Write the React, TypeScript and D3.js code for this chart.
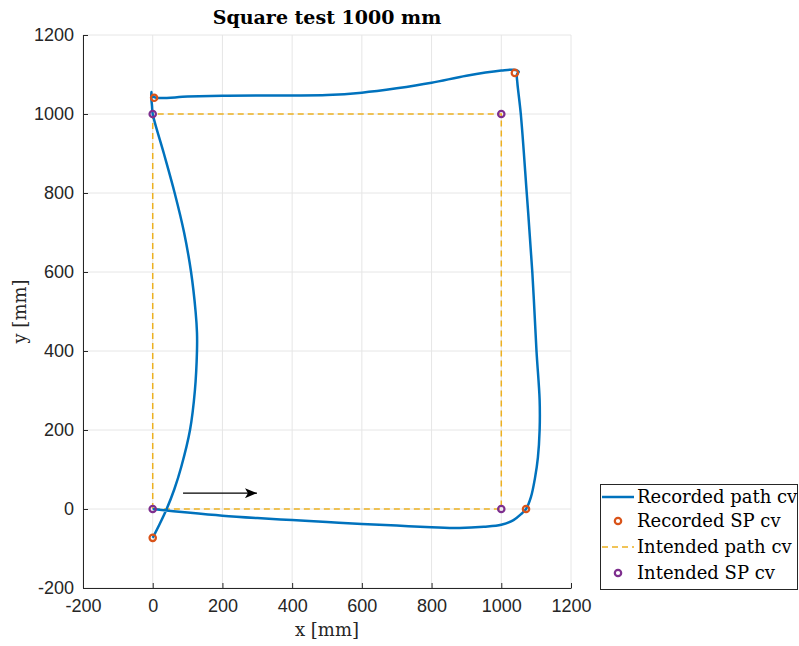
import React, { useEffect, useRef } from 'react';
import * as d3 from 'd3';

// recorded path (mm), start at origin going right
const recordedPath: [number, number][] = [
  [0, 0], [100, -9], [200, -17], [300, -23], [400, -28], [500, -33], [600, -38],
  [700, -42], [800, -46], [880, -48], [950, -45], [1000, -40], [1035, -28],
  [1058, -12], [1071, 0], [1085, 30], [1097, 80], [1105, 130], [1110, 200],
  [1110, 276], [1101, 400], [1089, 600], [1073, 800], [1056, 1000], [1046, 1080],
  [1045, 1100], [1050, 1107], [1035, 1112], [1000, 1110], [900, 1097], [800, 1079],
  [700, 1065], [600, 1054], [500, 1048], [400, 1047], [300, 1047], [200, 1046],
  [100, 1044], [10, 1041], [-2, 1046], [-4, 1056], [-4, 1040], [-2, 1020], [0, 1000],
  [32, 900], [63, 800], [90, 700], [110, 600], [123, 500], [127, 446], [127, 400],
  [121, 300], [107, 200], [82, 107], [62, 50], [40, 0], [20, -38], [0, -73],
];
const recordedSP: [number, number][] = [[1071, 0], [1039, 1104], [4, 1041], [0, -73]];
const intendedPath: [number, number][] = [[0, 0], [0, 1000], [1000, 1000], [1000, 0], [0, 0]];
const intendedSP: [number, number][] = [[0, 0], [0, 1000], [1000, 1000], [1000, 0]];
const arrow: [number, number][] = [[87, 40], [299, 40]];

const ticks = [-200, 0, 200, 400, 600, 800, 1000, 1200];
const legendLabels = ['Recorded path cv', 'Recorded SP cv', 'Intended path cv', 'Intended SP cv'];

const colors = {
  blue: '#0072BD',
  orange: '#D95319',
  yellow: '#EDB120',
  purple: '#7E2F8E',
  axis: '#262626',
  grid: '#e6e6e6',
};

const W = 799;
const H = 646;
const plot = { left: 83, right: 571, top: 35, bottom: 588 };
const serif = '"DejaVu Serif", "Liberation Serif", serif';
const sans = '"Liberation Sans", Arial, sans-serif';

const App = () => {
  const svgRef = useRef<SVGSVGElement>(null);

  useEffect(() => {
    const svg = d3.select(svgRef.current);
    svg.selectAll('*').remove();

    const x = d3.scaleLinear().domain([-200, 1200]).range([plot.left, plot.right]);
    const y = d3.scaleLinear().domain([-200, 1200]).range([plot.bottom, plot.top]);

    // grid
    const grid = svg.append('g').attr('stroke', colors.grid).attr('stroke-width', 1);
    grid.selectAll('.gx').data(ticks).join('line')
      .attr('x1', (d) => x(d)).attr('x2', (d) => x(d))
      .attr('y1', plot.top).attr('y2', plot.bottom);
    grid.selectAll('.gy').data(ticks).join('line')
      .attr('x1', plot.left).attr('x2', plot.right)
      .attr('y1', (d) => y(d)).attr('y2', (d) => y(d));

    // axes
    const fmt = (d: d3.NumberValue) => String(d);
    const xAxis = d3.axisBottom(x).tickValues(ticks).tickFormat(fmt)
      .tickSizeInner(-5).tickSizeOuter(0).tickPadding(11);
    const yAxis = d3.axisLeft(y).tickValues(ticks).tickFormat(fmt)
      .tickSizeInner(-5).tickSizeOuter(0).tickPadding(9);
    const gx = svg.append('g').attr('transform', `translate(0,${plot.bottom})`).call(xAxis);
    const gy = svg.append('g').attr('transform', `translate(${plot.left},0)`).call(yAxis);
    [gx, gy].forEach((g) => {
      g.select('.domain').attr('stroke', colors.axis);
      g.selectAll('.tick line').attr('stroke', colors.axis);
      g.selectAll('.tick text')
        .attr('fill', colors.axis)
        .style('font-family', sans)
        .style('font-size', '18px');
    });

    const line = d3.line<[number, number]>().x((d) => x(d[0])).y((d) => y(d[1]));

    // intended path
    svg.append('path')
      .attr('d', line(intendedPath))
      .attr('fill', 'none')
      .attr('stroke', colors.yellow)
      .attr('stroke-width', 1.5)
      .attr('stroke-dasharray', '6,4');

    // recorded path
    const smooth = d3.line<[number, number]>()
      .x((d) => x(d[0])).y((d) => y(d[1]))
      .curve(d3.curveCatmullRom.alpha(0.5));
    svg.append('path')
      .attr('d', smooth(recordedPath))
      .attr('fill', 'none')
      .attr('stroke', colors.blue)
      .attr('stroke-width', 2.5);

    // arrow
    const defs = svg.append('defs');
    defs.append('marker')
      .attr('id', 'arr')
      .attr('viewBox', '0 0 12 10')
      .attr('refX', 12).attr('refY', 5)
      .attr('markerWidth', 12).attr('markerHeight', 10)
      .attr('markerUnits', 'userSpaceOnUse')
      .attr('orient', 'auto')
      .append('path')
      .attr('d', 'M0,0 L12,5 L0,10 L3,5 Z')
      .attr('fill', 'black');
    svg.append('line')
      .attr('x1', x(arrow[0][0])).attr('y1', y(arrow[0][1]))
      .attr('x2', x(arrow[1][0])).attr('y2', y(arrow[1][1]))
      .attr('stroke', 'black').attr('stroke-width', 1.2)
      .attr('marker-end', 'url(#arr)');

    // markers
    svg.append('g').selectAll('circle').data(recordedSP).join('circle')
      .attr('cx', (d) => x(d[0])).attr('cy', (d) => y(d[1])).attr('r', 3.2)
      .attr('fill', 'none').attr('stroke', colors.orange).attr('stroke-width', 2.2);
    svg.append('g').selectAll('circle').data(intendedSP).join('circle')
      .attr('cx', (d) => x(d[0])).attr('cy', (d) => y(d[1])).attr('r', 3.2)
      .attr('fill', 'none').attr('stroke', colors.purple).attr('stroke-width', 2.2);

    // title and labels
    svg.append('text')
      .attr('x', (plot.left + plot.right) / 2).attr('y', 24)
      .attr('text-anchor', 'middle')
      .style('font-family', serif).style('font-weight', 'bold').style('font-size', '19px')
      .attr('fill', 'black')
      .text('Square test 1000 mm');
    svg.append('text')
      .attr('x', (plot.left + plot.right) / 2).attr('y', 636)
      .attr('text-anchor', 'middle')
      .style('font-family', serif).style('font-size', '18px')
      .attr('fill', colors.axis)
      .text('x [mm]');
    svg.append('text')
      .attr('transform', `translate(26,${(plot.top + plot.bottom) / 2}) rotate(-90)`)
      .attr('text-anchor', 'middle')
      .style('font-family', serif).style('font-size', '18px')
      .attr('fill', colors.axis)
      .text('y [mm]');

    // legend
    const lg = svg.append('g');
    lg.append('rect')
      .attr('x', 600.5).attr('y', 484.5).attr('width', 197).attr('height', 105)
      .attr('fill', 'white').attr('stroke', colors.axis).attr('stroke-width', 1);
    const rowY = [497, 521, 547, 573];
    legendLabels.forEach((label, i) => {
      const cy = rowY[i];
      if (i === 0 || i === 2) {
        lg.append('line')
          .attr('x1', 602).attr('x2', 634).attr('y1', cy).attr('y2', cy)
          .attr('stroke', i === 0 ? colors.blue : colors.yellow)
          .attr('stroke-width', i === 0 ? 2.5 : 1.5)
          .attr('stroke-dasharray', i === 0 ? null : '6,4');
      } else {
        lg.append('circle')
          .attr('cx', 618).attr('cy', cy).attr('r', 3.2)
          .attr('fill', 'none')
          .attr('stroke', i === 1 ? colors.orange : colors.purple)
          .attr('stroke-width', 2.2);
      }
      lg.append('text')
        .attr('x', 637).attr('y', cy + 6)
        .style('font-family', serif).style('font-size', '18px')
        .attr('fill', 'black')
        .text(label);
    });
  }, []);

  return (
    <svg
      ref={svgRef}
      width={W}
      height={H}
      style={{ position: 'absolute', left: 0, top: 0, background: 'white' }}
    />
  );
};

export default App;
